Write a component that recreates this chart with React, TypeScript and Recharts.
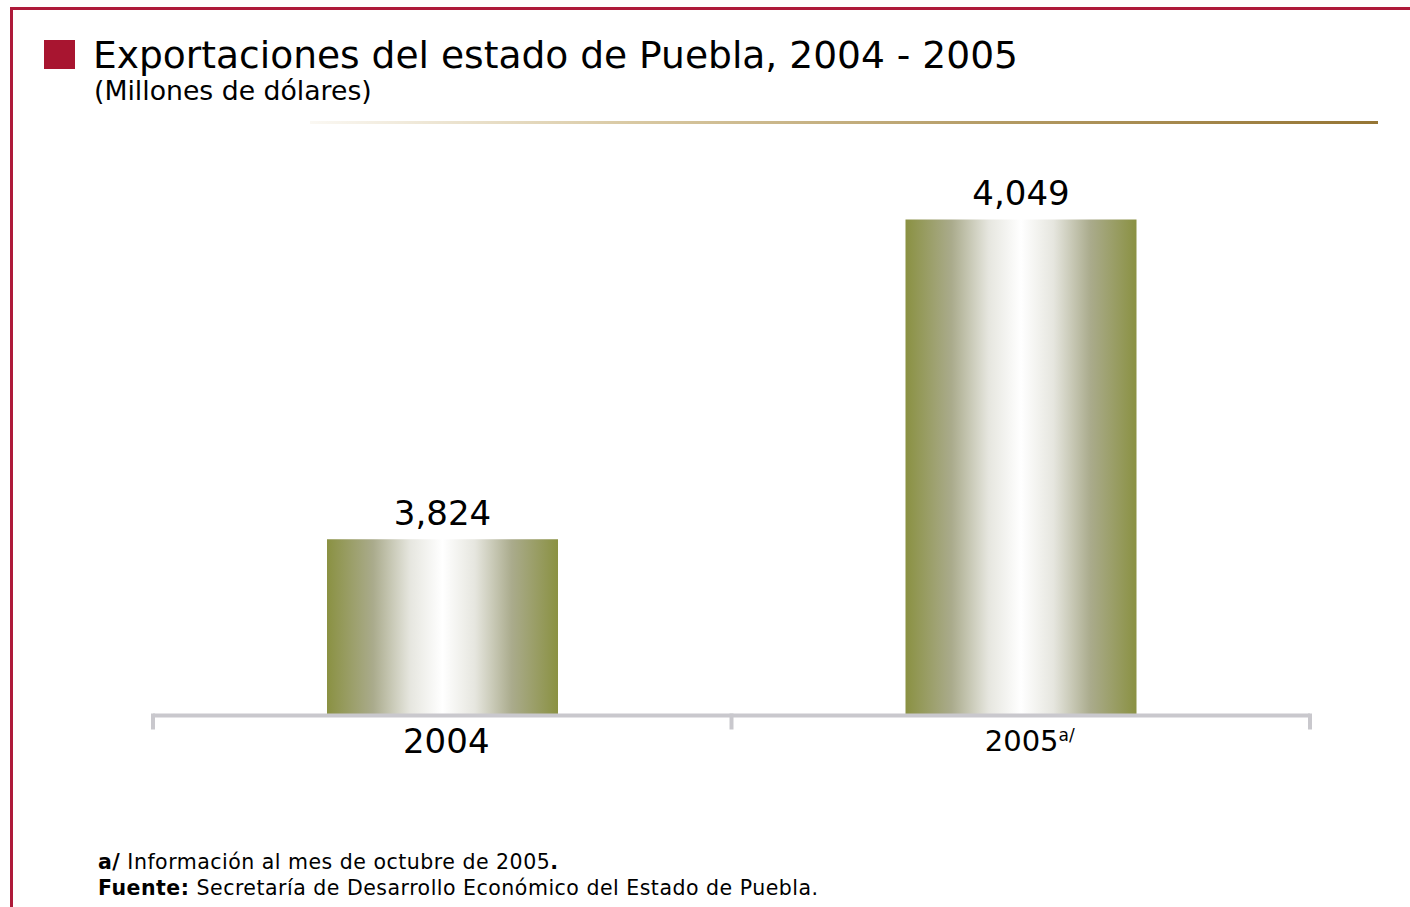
import React from "react";
import { BarChart, Bar, XAxis, YAxis, LabelList } from "recharts";

const years = ["2004", "2005"];
const exports = [3824, 4049];
const notes = ["", "a/"];

const data = years.map((year, i) => ({ year, value: exports[i], note: notes[i] }));

const FONT = "'DejaVu Sans', Verdana, sans-serif";
const AXIS_GRAY = "#c9c8cd";

// Custom tick: year label plus the tick marks at the band edges
const YearTick = (props: any) => {
  const { x, y, payload, index, visibleTicksCount } = props;
  const half = payload.offset || 0;
  const note = notes[index] || "";
  const big = note === "";
  const last = index === (visibleTicksCount ?? years.length) - 1;
  return (
    <g>
      <line x1={x - half} x2={x - half} y1={y - 10} y2={y + 6} stroke={AXIS_GRAY} strokeWidth={4} />
      {last && <line x1={x + half} x2={x + half} y1={y - 10} y2={y + 6} stroke={AXIS_GRAY} strokeWidth={4} />}
      <text
        x={x}
        y={y}
        textAnchor="middle"
        fontFamily={FONT}
        fontSize={big ? 34 : 29}
        fill="#000"
        dx={big ? 4 : 9}
        dy={big ? 29 : 27}
      >
        {payload.value}
        {note && (
          <tspan fontSize={17} dy={-10}>
            {note}
          </tspan>
        )}
      </text>
    </g>
  );
};

const App: React.FC = () => {
  return (
    <div style={{ position: "absolute", left: 0, top: 0, width: 1410, height: 907, background: "#fff", fontFamily: FONT, overflow: "hidden" }}>
      {/* red frame */}
      <div style={{ position: "absolute", left: 10, top: 7, width: 1410, height: 920, borderTop: "3px solid #ae1a3a", borderLeft: "3px solid #ae1a3a" }} />
      {/* title */}
      <div style={{ position: "absolute", left: 44, top: 40, width: 31, height: 29, background: "#a81530" }} />
      <div style={{ position: "absolute", left: 93, top: 33, fontSize: 37.6, color: "#000", whiteSpace: "nowrap" }}>
        Exportaciones del estado de Puebla, 2004 - 2005
      </div>
      <div style={{ position: "absolute", left: 94, top: 75, fontSize: 26.7, color: "#000", whiteSpace: "nowrap" }}>
        (Millones de dólares)
      </div>
      <div style={{ position: "absolute", left: 310, top: 121, width: 1068, height: 3, background: "linear-gradient(to right, rgba(240,232,215,0.3), #d9c9a3 30%, #b39a63 65%, #957534)" }} />

      <div style={{ position: "absolute", left: 0, top: 0 }}>
        <BarChart width={1410} height={907} data={data} margin={{ top: 147, right: 100, left: 153, bottom: 131.5 }}>
          <defs>
            <linearGradient id="olive" x1="0" y1="0" x2="1" y2="0">
              <stop offset="0%" stopColor="#8a9142" />
              <stop offset="20%" stopColor="#aaab8c" />
              <stop offset="36%" stopColor="#e6e6df" />
              <stop offset="50%" stopColor="#ffffff" />
              <stop offset="64%" stopColor="#e6e6df" />
              <stop offset="80%" stopColor="#aaab8c" />
              <stop offset="100%" stopColor="#8a9142" />
            </linearGradient>
          </defs>
          <XAxis
            dataKey="year"
            height={60}
            axisLine={{ stroke: AXIS_GRAY, strokeWidth: 4 }}
            tickLine={false}
            tick={<YearTick />}
            interval={0}
          />
          <YAxis hide domain={[3700, 4100]} />
          <Bar dataKey="value" fill="url(#olive)" barSize={231} isAnimationActive={false}>
            <LabelList
              dataKey="value"
              position="top"
              offset={14}
              fontSize={34}
              fontFamily={FONT}
              fill="#000"
              formatter={(v: any) => Number(v).toLocaleString("en-US")}
            />
          </Bar>
        </BarChart>
      </div>

      {/* footnotes */}
      <div style={{ position: "absolute", left: 98, top: 849, fontSize: 20.5, letterSpacing: 0.5, lineHeight: "26px", color: "#000", whiteSpace: "nowrap" }}>
        <div><b>a/</b> Información al mes de octubre de 2005<b>.</b></div>
        <div><b>Fuente:</b> Secretaría de Desarrollo Económico del Estado de Puebla.</div>
      </div>
    </div>
  );
};

export default App;
